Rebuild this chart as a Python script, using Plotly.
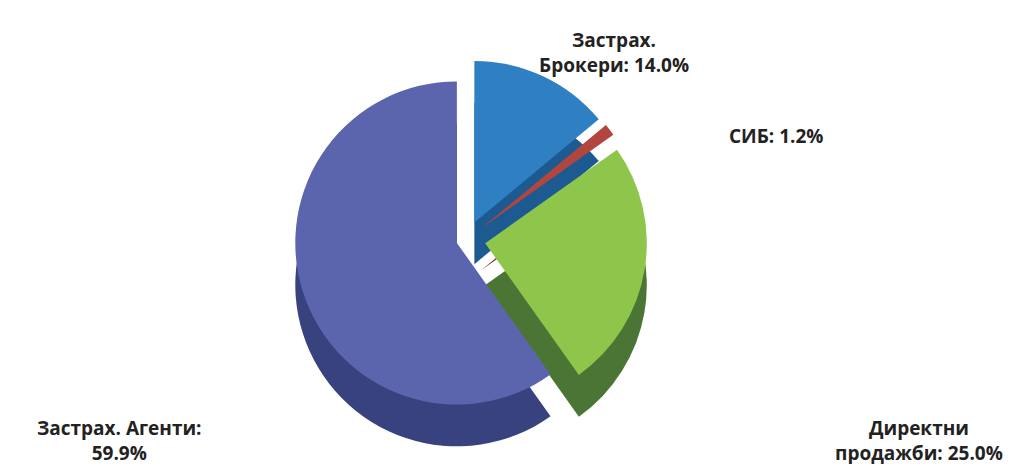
import plotly.graph_objects as go

labels = ["Застрах. Брокери", "СИБ", "Директни продажби", "Застрах. Агенти"]
values = [14.0, 1.2, 25.0, 59.9]
label_texts = ["Застрах.<br>Брокери: 14.0%", "СИБ: 1.2%", "Директни<br>продажби: 25.0%", "Застрах. Агенти:<br>59.9%"]

top_colors = ["#2f80c3", "#b2463e", "#8ec64b", "#5b65ad"]
side_colors = ["#1d5a92", "#7a2c27", "#4b7534", "#37427f"]
pulls = [0.12, 0.12, 0.12, 0.06]

fig = go.Figure()
dx = [0.20, 0.70]
fig.add_trace(go.Pie(
    labels=labels, values=values, sort=False, direction="clockwise", rotation=0,
    pull=pulls, marker=dict(colors=side_colors, line=dict(width=0)),
    textinfo="none", hoverinfo="skip", showlegend=False,
    domain=dict(x=dx, y=[0.02, 0.80]),
))
fig.add_trace(go.Pie(
    labels=labels, values=values, sort=False, direction="clockwise", rotation=0,
    pull=pulls, marker=dict(colors=top_colors, line=dict(width=0)),
    textinfo="none", showlegend=False,
    domain=dict(x=dx, y=[0.11, 0.89]),
))

pos = [(0.595, 0.905), (0.755, 0.724), (0.895, 0.068), (0.11, 0.068)]
for t, (x, y) in zip(label_texts, pos):
    fig.add_annotation(x=x, y=y, xref="paper", yref="paper", text=t, showarrow=False,
                       font=dict(family="Open Sans", size=19, color="#222222", weight="bold"),
                       align="center", yanchor="middle", xanchor="center")

fig.update_layout(width=1018, height=464, margin=dict(l=0, r=0, t=0, b=0),
                  paper_bgcolor="white", plot_bgcolor="white",
                  font=dict(family="Open Sans"))
fig.write_html("out.html")
